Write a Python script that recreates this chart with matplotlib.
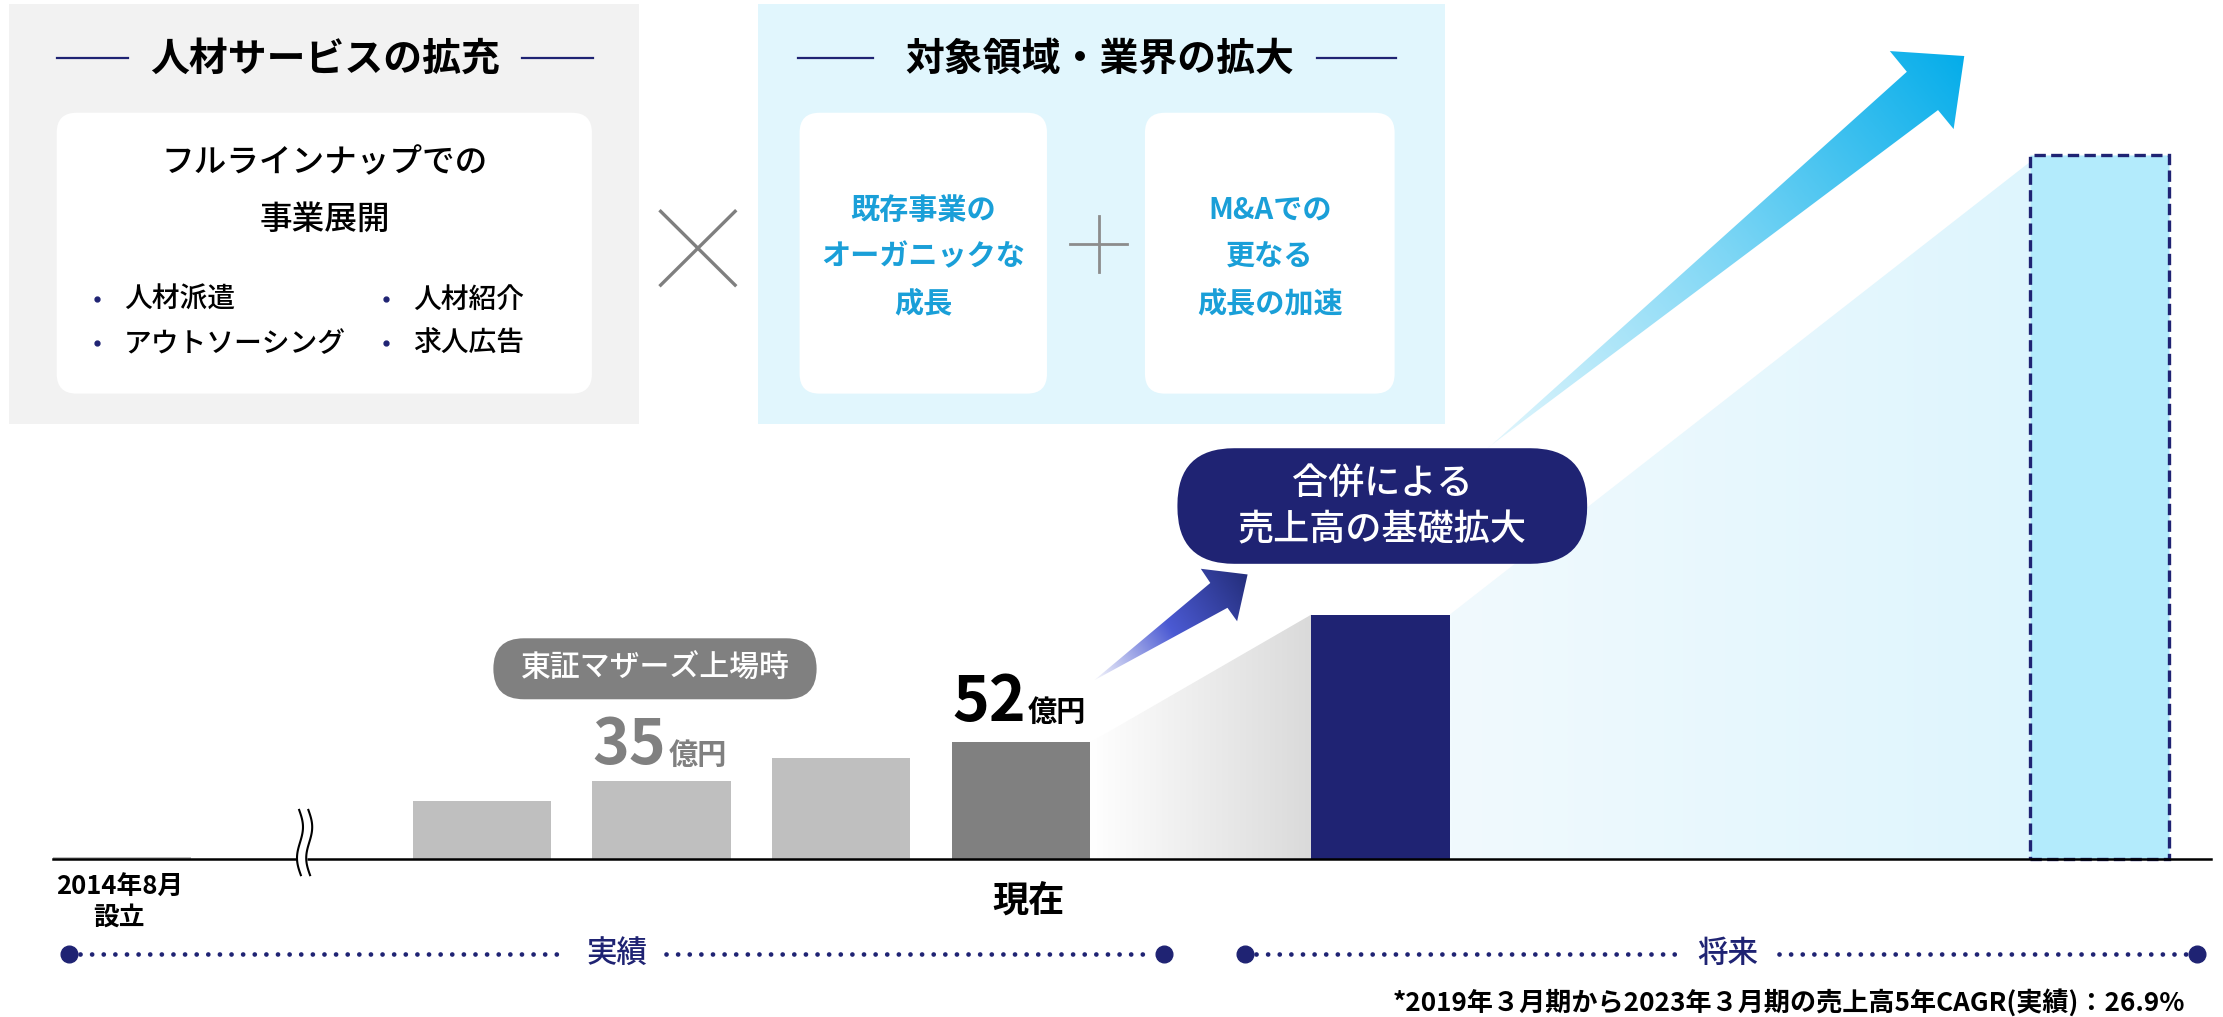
import numpy as np
import matplotlib as mpl
mpl.use('Agg')
import matplotlib.pyplot as plt
from matplotlib.patches import FancyBboxPatch, Polygon
from matplotlib.colors import LinearSegmentedColormap

plt.rcParams['font.family'] = ['Noto Sans CJK JP', 'DejaVu Sans']

NAVY = '#1f2373'
CYAN = '#1a9fd8'
GREY_TXT = '#808080'

# ---- chart data (億円) ----
stage_names = ['2014年8月\n設立', '', '', '', '現在', '', '']
sales = [1, 26, 35, 45, 52, 109, 314]
bar_colors = ['#bfbfbf', '#bfbfbf', '#bfbfbf', '#bfbfbf', '#808080', NAVY, '#b3ebfc']
value_labels = ['', '', '35', '', '52', '', '']
value_colors = ['', '', GREY_TXT, '', 'black', '', '']
unit = '億円'

# slot on the time axis (one gap = break mark, two gaps before merger, ...)
slots = [-2, 0, 1, 2, 3, 5, 9]

left_title = '人材サービスの拡充'
left_head = ['フルラインナップでの', '事業展開']
left_items = ['人材派遣', '人材紹介', 'アウトソーシング', '求人広告']
right_title = '対象領域・業界の拡大'
right_cards = [['既存事業の', 'オーガニックな', '成長'], ['M&Aでの', '更なる', '成長の加速']]
callout_text = ['合併による', '売上高の基礎拡大']
listing_text = '東証マザーズ上場時'
periods = ['実績', '将来']
footnote = '*2019年３月期から2023年３月期の売上高5年CAGR(実績)：26.9%'

# layout grid (reference units)
W, H = 1568, 717
slot0, slot_w = 339.8, 126.8
base_y, px_per_unit = 605.6, 1.581
bar_w = 0.77

fig = plt.figure(figsize=(22.23, 10.17), dpi=100)
ax = fig.add_axes([0, 0, 1, 1])
ov = fig.add_axes([0, 0, 1, 1])
ax.axis('off')
ov.axis('off')


def rbox(x0, y0, x1, y1, fc, r=0.0, z=1, ec='none', lw=0):
    style = 'round,pad=0,rounding_size=%s' % r if r > 0 else 'square,pad=0'
    p = FancyBboxPatch((x0, y0), x1 - x0, y1 - y0, boxstyle=style,
                       fc=fc, ec=ec, lw=lw, zorder=z)
    ov.add_patch(p)
    return p


def grad_fill(axis, verts, colors, p0, p1, z):
    verts = np.asarray(verts, dtype=float)
    poly = Polygon(verts, closed=True, fc='none', ec='none')
    axis.add_patch(poly)
    x0, y0 = verts.min(0)
    x1, y1 = verts.max(0)
    X, Y = np.meshgrid(np.linspace(x0, x1, 400), np.linspace(y0, y1, 400))
    d = np.array(p1, float) - np.array(p0, float)
    t = ((X - p0[0]) * d[0] + (Y - p0[1]) * d[1]) / (d @ d)
    cmap = LinearSegmentedColormap.from_list('g', colors)
    im = axis.imshow(np.clip(t, 0, 1), cmap=cmap, vmin=0, vmax=1,
                     extent=(x0, x1, y0, y1), origin='lower', aspect='auto',
                     interpolation='bilinear', zorder=z)
    im.set_clip_path(poly)


# ---------------- top panels ----------------
rbox(6.5, 3, 451, 299, '#f2f2f2')
rbox(535, 3, 1019, 299, '#e1f6fd')

ov.text(229, 42, left_title, ha='center', va='center', fontsize=28,
        fontweight='bold', color='black')
ov.plot([40, 90], [41, 41], color=NAVY, lw=1.6)
ov.plot([368, 418], [41, 41], color=NAVY, lw=1.6)
ov.text(776, 42, right_title, ha='center', va='center', fontsize=28,
        fontweight='bold', color='black')
ov.plot([563, 616], [41, 41], color=NAVY, lw=1.6)
ov.plot([929, 985], [41, 41], color=NAVY, lw=1.6)

rbox(40, 79.5, 417.5, 277.5, 'white', r=14, z=2)
for line, y in zip(left_head, [115, 155]):
    ov.text(229, y, line, ha='center', va='center', fontsize=23.5,
            fontweight='medium', color='black', zorder=3)
for item, (x, y) in zip(left_items, [(68.5, 211), (272.5, 211), (68.5, 242), (272.5, 242)]):
    ov.plot(x, y, 'o', color=NAVY, ms=3.5, zorder=3)
    ov.text(x + 19, y, item, ha='left', va='center', fontsize=20,
            fontweight='medium', color='black', zorder=3)

# multiplication sign and plus sign
ov.plot([466, 518.5], [149, 201], color='#7f7f7f', lw=2.4)
ov.plot([466, 518.5], [201, 149], color='#7f7f7f', lw=2.4)
ov.plot([755, 795], [172, 172], color='#8c8c8c', lw=2)
ov.plot([775, 775], [152.5, 192], color='#8c8c8c', lw=2)

for (x0, x1), lines in zip([(564, 738.5), (807.6, 983.7)], right_cards):
    rbox(x0, 79.5, x1, 277.5, 'white', r=14, z=2)
    for line, y in zip(lines, [148, 181, 214]):
        ov.text((x0 + x1) / 2, y, line, ha='center', va='center', fontsize=21,
                fontweight='bold', color=CYAN, zorder=3)

# ---------------- chart ----------------
# gradients joining the bar tops
xa, xb = slots[4] + bar_w / 2, slots[5] - bar_w / 2
grad_fill(ax, [(xa, 0), (xa, sales[4]), (xb, sales[5]), (xb, 0)],
          ['#ffffff', '#dadada'], (xa, 0), (xb, 0), 1)
xc, xd = slots[5] + bar_w / 2, slots[6] - bar_w / 2
grad_fill(ax, [(xc, 0), (xc, sales[5]), (xd, sales[6] - 3), (xd, 0)],
          ['#f1fafe', '#def5fd'], (xc, 0), (xd, 0), 1)

ax.bar(slots[:-1], sales[:-1], width=bar_w, color=bar_colors[:-1], zorder=3)
ax.bar(slots[-1], sales[-1], width=bar_w, color=bar_colors[-1], ec=NAVY,
       lw=2.4, ls=(0, (3.4, 1.6)), zorder=3)
ax.plot([slots[0] - bar_w / 2, slots[-1] + 0.62], [0, 0], color='black', lw=1.8, zorder=4)

for s, v, lab, col in zip(slots, sales, value_labels, value_colors):
    if not lab:
        continue
    off = 15.5 if col == 'black' else 12
    ax.annotate(lab, (s, v), xytext=(3.5, off), textcoords='offset points',
                ha='right', va='baseline', fontsize=45, fontweight='bold', color=col, zorder=5)
    ax.annotate(unit, (s, v), xytext=(5, off), textcoords='offset points',
                ha='left', va='baseline', fontsize=21, fontweight='bold', color=col, zorder=5)

for s, name in zip(slots, stage_names):
    if not name:
        continue
    if '\n' in name:
        ax.annotate(name, (s, 0), xytext=(-2, -31), textcoords='offset points',
                    ha='center', va='center', fontsize=18.5, fontweight='bold',
                    linespacing=1.15, zorder=5)
    else:
        ax.annotate(name, (s, 0), xytext=(5, -30), textcoords='offset points',
                    ha='center', va='center', fontsize=26, fontweight='bold', zorder=5)

# break mark on the axis
ys = np.linspace(571, 617, 120)
tt = (ys - 571) / 46
wave = 2.4 * np.sin(2 * np.pi * tt) + 1.2 * tt
ov.fill_betweenx(ys, 211 + wave, 217.5 + wave, color='white', zorder=4)
ov.plot(211 + wave, ys, color='black', lw=1.5, zorder=5)
ov.plot(217.5 + wave, ys, color='black', lw=1.5, zorder=5)

# listing pill
rbox(348, 450, 576, 493, GREY_TXT, r=21.5, z=5)
ov.text(462, 471, listing_text, ha='center', va='center', fontsize=21.5,
        fontweight='medium', color='white', zorder=6)

# big growth arrow
big = [(1050.6, 315), (1345, 50.6), (1333, 36), (1385.5, 39.5),
       (1378, 91), (1367, 77.6), (1049, 316)]
grad_fill(ov, big, ['#e4f7fd', '#7dd6f5', '#05adea'], (1050, 315), (1385, 40), 2)

# small merger arrow
small = [(773, 478.6), (853.7, 411), (847, 401), (880, 405),
         (872.6, 438), (865.8, 428.5), (772, 479.5)]
grad_fill(ov, small, ['#f2f3fb', '#4b5ad3', '#26307f'], (773, 478), (878, 408), 3)

# merger callout
rbox(830.5, 316, 1119.5, 397.5, NAVY, r=40, z=6)
for line, y in zip(callout_text, [342, 374]):
    ov.text(975, y, line, ha='center', va='center', fontsize=26,
            fontweight='medium', color='white', zorder=7)

# ---------------- timeline ----------------
ty = 672.5
for (x0, x1), (g0, g1), lab in zip([(48.6, 821), (878, 1550)],
                                   [(400, 470), (1183, 1255)], periods):
    for a, b in [(x0 + 8, g0), (g1, x1 - 8)]:
        ov.plot([a, b], [ty, ty], color=NAVY, lw=3.4,
                ls=(0, (0.01, 2.45)), dash_capstyle='round')
    ov.plot([x0, x1], [ty, ty], 'o', color=NAVY, ms=12, ls='none')
    ov.text((g0 + g1) / 2, ty, lab, ha='center', va='center', fontsize=22,
            fontweight='medium', color=NAVY)

ov.text(1541, 707, footnote, ha='right', va='center', fontsize=18.8,
        fontweight='bold', color='black')

ax.set_xlim((0 - slot0) / slot_w, (W - slot0) / slot_w)
ax.set_ylim((base_y - H) / px_per_unit, base_y / px_per_unit)
ov.set_xlim(0, W)
ov.set_ylim(H, 0)

fig.savefig('out.png', dpi=100)
